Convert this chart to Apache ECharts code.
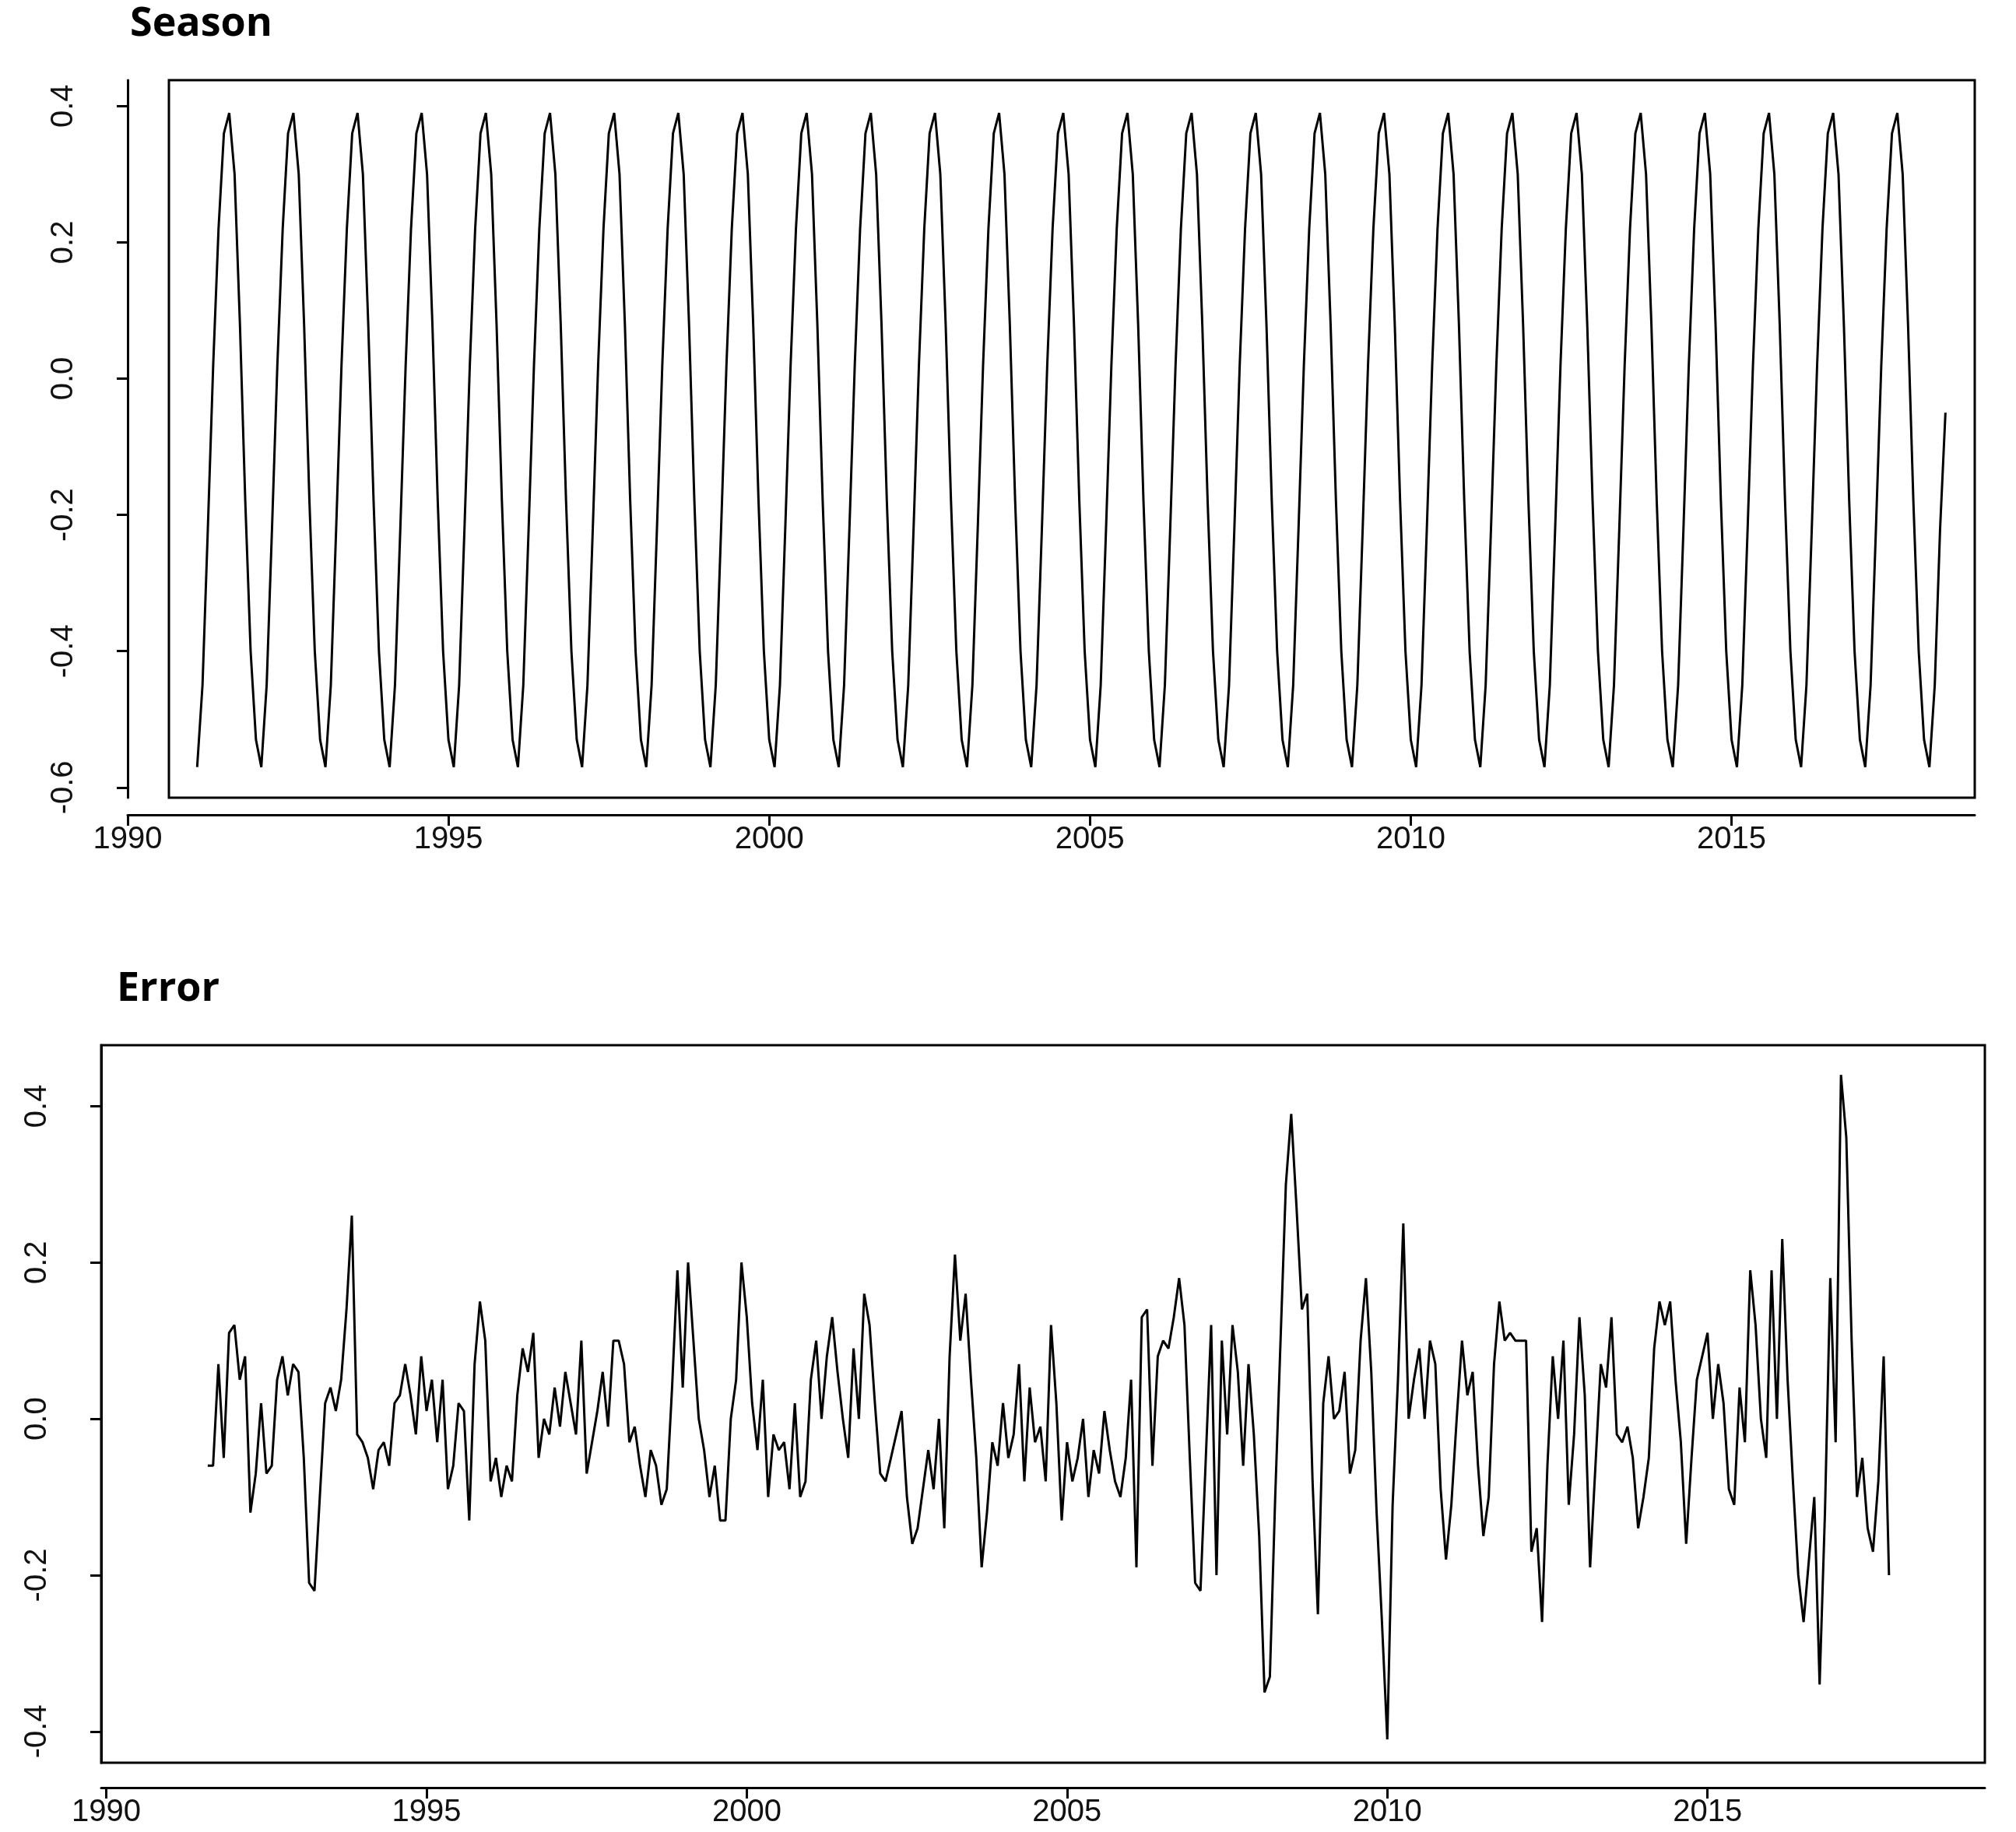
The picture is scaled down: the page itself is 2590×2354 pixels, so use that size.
<!DOCTYPE html>
<html><head><meta charset="utf-8">
<script src="https://cdn.jsdelivr.net/npm/echarts@6/dist/echarts.min.js"></script>
<style>html,body{margin:0;padding:0;background:#fff}#c{width:2590px;height:2354px}</style>
</head><body><div id="c"></div>
<script>
// Seasonal pattern (one year, starting February)
const seasonPattern = [-0.57,-0.45,-0.22,0.02,0.22,0.36,0.39,0.30,0.08,-0.18,-0.40,-0.53];
const seasonStart = 1991 + 1/12;
const seasonCount = 325;
const seasonEnd = [-0.45,-0.22,-0.05];
// Error series, monthly from Aug 1991
const errorStart = 1991 + 7/12;
const err1991 = [-0.06,-0.06,0.07,-0.05,0.11];
const err1992 = [0.12,0.05,0.08,-0.12,-0.07,0.02,-0.07,-0.06,0.05,0.08,0.03,0.07];
const err1993 = [0.06,-0.05,-0.21,-0.22,-0.10,0.02,0.04,0.01,0.05,0.14,0.26,-0.02];
const err1994 = [-0.03,-0.05,-0.09,-0.04,-0.03,-0.06,0.02,0.03,0.07,0.03,-0.02,0.08];
const err1995 = [0.01,0.05,-0.03,0.05,-0.09,-0.06,0.02,0.01,-0.13,0.07,0.15,0.10];
const err1996 = [-0.08,-0.05,-0.10,-0.06,-0.08,0.03,0.09,0.06,0.11,-0.05,0.00,-0.02];
const err1997 = [0.04,-0.01,0.06,0.02,-0.02,0.10,-0.07,-0.03,0.01,0.06,-0.01,0.10];
const err1998 = [0.10,0.07,-0.03,-0.01,-0.06,-0.10,-0.04,-0.06,-0.11,-0.09,0.04,0.19];
const err1999 = [0.04,0.20,0.10,0.00,-0.04,-0.10,-0.06,-0.13,-0.13,0.00,0.05,0.20];
const err2000 = [0.13,0.02,-0.04,0.05,-0.10,-0.02,-0.04,-0.03,-0.09,0.02,-0.10,-0.08];
const err2001 = [0.05,0.10,0.00,0.08,0.13,0.06,0.00,-0.05,0.09,0.00,0.16,0.12];
const err2002 = [0.02,-0.07,-0.08,-0.05,-0.02,0.01,-0.10,-0.16,-0.14,-0.09,-0.04,-0.09];
const err2003 = [0.00,-0.14,0.08,0.21,0.10,0.16,0.05,-0.05,-0.19,-0.12,-0.03,-0.06];
const err2004 = [0.02,-0.05,-0.02,0.07,-0.08,0.04,-0.03,-0.01,-0.08,0.12,0.02,-0.13];
const err2005 = [-0.03,-0.08,-0.05,0.00,-0.10,-0.04,-0.07,0.01,-0.04,-0.08,-0.10,-0.05];
const err2006 = [0.05,-0.19,0.13,0.14,-0.06,0.08,0.10,0.09,0.13,0.18,0.12,-0.05];
const err2007 = [-0.21,-0.22,-0.05,0.12,-0.20,0.10,-0.02,0.12,0.06,-0.06,0.07,-0.02];
const err2008 = [-0.15,-0.35,-0.33,-0.10,0.10,0.30,0.39,0.27,0.14,0.16,-0.08,-0.25];
const err2009 = [0.02,0.08,0.00,0.01,0.06,-0.07,-0.04,0.10,0.18,0.06,-0.12,-0.26];
const err2010 = [-0.41,-0.11,0.05,0.25,0.00,0.05,0.09,0.00,0.10,0.07,-0.09,-0.18];
const err2011 = [-0.11,0.00,0.10,0.03,0.06,-0.06,-0.15,-0.10,0.07,0.15,0.10,0.11];
const err2012 = [0.10,0.10,0.10,-0.17,-0.14,-0.26,-0.06,0.08,0.00,0.10,-0.11,-0.02];
const err2013 = [0.13,0.03,-0.19,-0.06,0.07,0.04,0.13,-0.02,-0.03,-0.01,-0.05,-0.14];
const err2014 = [-0.10,-0.05,0.09,0.15,0.12,0.15,0.05,-0.03,-0.16,-0.05,0.05,0.08];
const err2015 = [0.11,0.00,0.07,0.02,-0.09,-0.11,0.04,-0.03,0.19,0.12,0.00,-0.05];
const err2016 = [0.19,0.00,0.23,0.05,-0.08,-0.20,-0.26,-0.18,-0.10,-0.34,-0.12,0.18];
const err2017 = [-0.03,0.44,0.36,0.10,-0.10,-0.05,-0.14,-0.17,-0.08,0.08,-0.20];
const xTicks = [1990,1995,2000,2005,2010,2015];
const seasonTicks = [-0.6,-0.4,-0.2,0,0.2,0.4];
const errorTicks = [-0.4,-0.2,0,0.2,0.4];

const seasonVals = [];
for (let i = 0; i < seasonCount; i++) seasonVals.push(seasonPattern[i % 12]);
seasonVals.push(...seasonEnd);
const seasonData = seasonVals.map((v,i)=>[seasonStart + i/12, v]);
const errorVals = [].concat(err1991,err1992,err1993,err1994,err1995,err1996,err1997,err1998,err1999,err2000,err2001,err2002,err2003,err2004,err2005,err2006,err2007,err2008,err2009,err2010,err2011,err2012,err2013,err2014,err2015,err2016,err2017);
const errorData = errorVals.map((v,i)=>[errorStart + i/12, v]);

const FONT = 'Liberation Sans';
const lab = {fontFamily: FONT, fontSize: 40, color: '#111'};
function xa(gi, min, max, off){ return {type:'value', gridIndex:gi, min, max, offset:off,
  axisLine:{show:true,onZero:false,lineStyle:{color:'#000',width:3}},
  axisTick:{show:true,length:14,lineStyle:{color:'#000',width:3},customValues:xTicks},
  axisLabel:Object.assign({margin:12,customValues:xTicks,formatter:v=>String(v)},lab),
  splitLine:{show:false}}; }
function ya(gi, min, max, ticks, m){ return {type:'value', gridIndex:gi, min, max,
  axisLine:{show:true,lineStyle:{color:'#000',width:3}},
  axisTick:{show:true,length:14,lineStyle:{color:'#000',width:3},customValues:ticks},
  axisLabel:Object.assign({margin:m,rotate:90,customValues:ticks,formatter:v=>v.toFixed(1)},lab),
  splitLine:{show:false}}; }

const chart = echarts.init(document.getElementById('c'), null, {renderer:'canvas'});
chart.setOption({
  backgroundColor:'#fff', animation:false,
  title:[
    {text:'Season', left:162, top:0, textStyle:{fontFamily:'Open Sans',fontWeight:'bold',fontSize:52,color:'#000'}},
    {text:'Error', left:145, top:1240, textStyle:{fontFamily:'Open Sans',fontWeight:'bold',fontSize:52,color:'#000'}}
  ],
  grid:[
    {left:164, right:53, top:103, bottom:1329},
    {left:130, right:40, top:1343, bottom:89}
  ],
  xAxis:[ xa(0,1990,2018.79,22), xa(1,1989.92,2019.33,32) ],
  yAxis:[ ya(0,-0.615,0.438,seasonTicks,62), ya(1,-0.44,0.478,errorTicks,62) ],
  graphic:[
    {type:'rect', shape:{x:217,y:103,width:2320,height:922}, style:{fill:'none',stroke:'#000',lineWidth:3}, silent:true},
    {type:'rect', shape:{x:130,y:1343,width:2420,height:922}, style:{fill:'none',stroke:'#000',lineWidth:3}, silent:true}
  ],
  series:[
    {type:'line', xAxisIndex:0, yAxisIndex:0, data:seasonData, showSymbol:false, lineStyle:{color:'#000',width:3}},
    {type:'line', xAxisIndex:1, yAxisIndex:1, data:errorData, showSymbol:false, lineStyle:{color:'#000',width:3}}
  ]
});
</script></body></html>
